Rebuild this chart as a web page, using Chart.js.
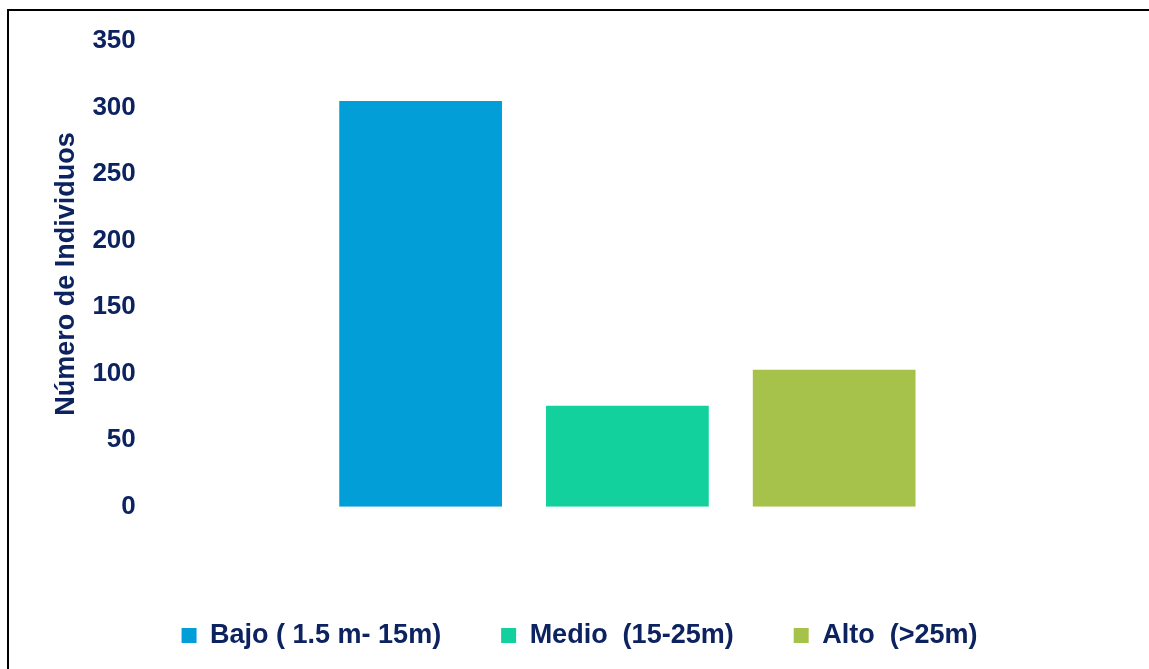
<!DOCTYPE html>
<html>
<head>
<meta charset="utf-8">
<script src="https://cdn.jsdelivr.net/npm/chart.js@4"></script>
<style>
  html, body { margin: 0; padding: 0; background: #fff; }
  #wrap { position: relative; width: 1149px; height: 669px; }
  #frame { position: absolute; left: 7px; top: 9px; width: 1160px; height: 680px;
           border-left: 2px solid #000; border-top: 2px solid #000; box-sizing: border-box; }
  canvas { position: absolute; left: 0; top: 0; }
</style>
</head>
<body>
<div id="wrap">
  <div id="frame"></div>
  <canvas id="chart" width="1149" height="669"></canvas>
</div>
<script>
const seriesNames = ["Bajo ( 1.5 m- 15m)", "Medio  (15-25m)", "Alto  (>25m)"];
const seriesValues = [305, 76, 103];
const seriesColors = ["#029ED8", "#12D19D", "#A6C24A"];
const yTitle = "Número de Individuos";

const navy = "#0C2360";
const font = "'Century Gothic', 'Liberation Sans', Arial, sans-serif";

const ctx = document.getElementById("chart").getContext("2d");

const chart = new Chart(ctx, {
    type: "bar",
    data: {
        labels: [""],
        datasets: seriesNames.map((name, i) => ({
            label: name,
            data: [seriesValues[i]],
            backgroundColor: seriesColors[i],
            borderWidth: 0
        }))
    },
    options: {
        responsive: false,
        animation: false,
        categoryPercentage: 0.644,
        barPercentage: 0.787,
        layout: {
            padding: { top: 41, right: 40, bottom: 10, left: 50 }
        },
        plugins: {
            legend: {
                position: "bottom",
                labels: {
                    color: navy,
                    font: { family: font, size: 27, weight: "bold" },
                    boxWidth: 15,
                    boxHeight: 15,
                    padding: 60
                }
            },
            tooltip: { enabled: false }
        },
        scales: {
            x: {
                grid: { display: false, drawTicks: false },
                border: { display: false },
                ticks: { display: false },
                // empty title only reserves the gap between bars and legend
                title: {
                    display: true,
                    text: "",
                    font: { size: 1 },
                    padding: { top: 0, bottom: 54 }
                }
            },
            y: {
                min: 0,
                max: 350,
                ticks: {
                    stepSize: 50,
                    color: navy,
                    padding: 10,
                    font: { family: font, size: 26, weight: "bold" }
                },
                grid: { display: false, drawTicks: false },
                border: { display: false },
                title: {
                    display: true,
                    text: yTitle,
                    color: navy,
                    padding: 0,
                    font: { family: font, size: 27, weight: "bold" }
                }
            }
        }
    }
});
</script>
</body>
</html>
